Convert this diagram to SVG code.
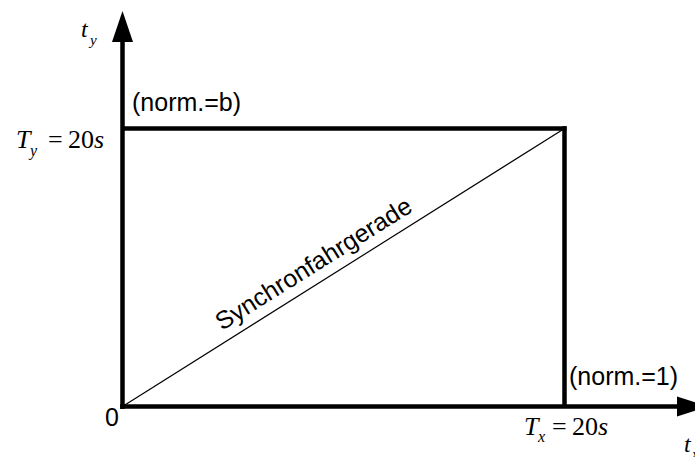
<svg xmlns="http://www.w3.org/2000/svg" width="695" height="457" viewBox="0 0 695 457">
<style>
.thick{stroke:#000;stroke-width:4.5;fill:none}
.thin{stroke:#000;stroke-width:1.2;fill:none}
.sans{font-family:"Liberation Sans",Arial,sans-serif;font-size:25px;fill:#000}
.math{font-family:"Liberation Serif","Times New Roman",serif;font-style:italic;fill:#000}
.mathr{font-family:"Liberation Serif","Times New Roman",serif;fill:#000}
</style>
<g id="connectors">
<line class="thick" x1="122.5" y1="409" x2="122.5" y2="40"/>
<polygon points="122.5,11 112,42 133,42" fill="#000"/>
<line class="thick" x1="120" y1="406.5" x2="680" y2="406.5"/>
<polygon points="708,406.5 677,396.5 677,416.5" fill="#000"/>
<line class="thick" x1="122.5" y1="128.5" x2="566.5" y2="128.5"/>
<line class="thick" x1="564.5" y1="126.3" x2="564.5" y2="406.5"/>
<line class="thin" x1="122.5" y1="406.5" x2="564.5" y2="128.5"/>
</g>
<g id="label-ty">
<text class="math" x="81" y="37" font-size="24">t</text>
<text class="math" x="90" y="45" font-size="15">y</text>
</g>
<g id="label-Ty">
<text class="math" x="16" y="148" font-size="26">T</text>
<text class="math" x="30" y="156" font-size="16">y</text>
<text class="mathr" x="48" y="148" font-size="26">=</text>
<text class="math" x="68" y="148" font-size="26"><tspan font-style="normal">20</tspan>s</text>
</g>
<g id="label-Tx">
<text class="math" x="524" y="435" font-size="26">T</text>
<text class="math" x="538" y="442" font-size="16">x</text>
<text class="mathr" x="552" y="435" font-size="26">=</text>
<text class="math" x="572" y="435" font-size="26"><tspan font-style="normal">20</tspan>s</text>
</g>
<g id="label-tx">
<text class="math" x="684" y="452" font-size="24">t</text>
<text class="math" x="692" y="459" font-size="15">x</text>
</g>
<g id="label-zero"><text class="sans" x="105" y="426">0</text></g>
<g id="label-normb"><text class="sans" x="132" y="111">(norm.=b)</text></g>
<g id="label-norm1"><text class="sans" x="569" y="385">(norm.=1)</text></g>
<g id="label-diag"><text class="sans" font-size="26" transform="translate(222,331) rotate(-32.1)">Synchronfahrgerade</text></g>
</svg>
